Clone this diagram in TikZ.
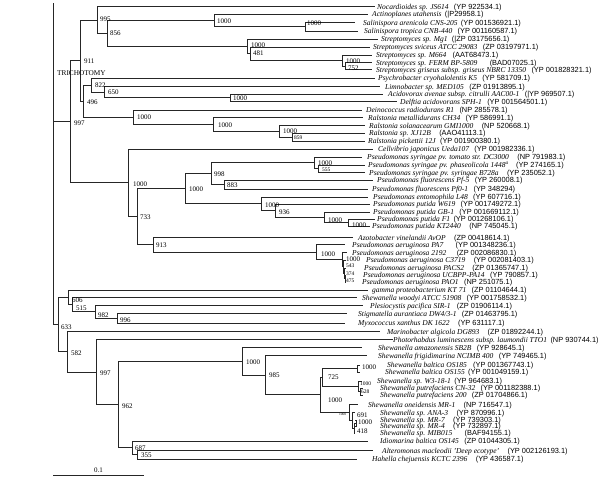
\documentclass[tikz,border=0pt]{standalone}
\usepackage{fontspec}
\setmainfont{Liberation Serif}
\newfontfamily\accfont{Liberation Sans}
\newcommand\tleaf[7]{%
  \coordinate (#1) at (#2,#3);
  \node[sp] (#1s) at (#4,#3+2.5) {#6};
  \node[ac] (#1a) at ([xshift=#5pt]#1s.base east) {#7};
}
\newcommand\bootlab[5][]{\node[bl,#1] (#2) at (#3,#4) {#5};}
\begin{document}
\begin{tikzpicture}[x=1pt,y=-1pt,
  br/.style={line width=0.9pt,black!85},
  sp/.style={anchor=base west,inner sep=0pt,font=\fontsize{7.5}{8}\selectfont\itshape},
  ac/.style={anchor=base west,inner sep=0pt,font=\fontsize{7.4}{8}\selectfont\accfont\upshape},
  bl/.style={anchor=west,inner sep=0pt,font=\fontsize{7}{8}\selectfont},
  tiny/.style={font=\fontsize{5.5}{6}\selectfont}]
\useasboundingbox (0,0) rectangle (600,477);
% ---------- leaves ----------
\tleaf{L1}{375}{6.5}{377}{5}{Nocardioides sp. JS614}{(YP 922534.1)}
\tleaf{L2}{368}{14}{372}{3}{Actinoplanes utahensis}{(|P29958.1)}
\tleaf{L3}{355}{22.5}{363}{3}{Salinispora arenicola CNS-205}{(YP 001536921.1)}
\tleaf{L4}{358}{31}{364}{5}{Salinispora tropica CNB-440}{(YP 001160587.1)}
\tleaf{L5}{378}{39}{381}{4}{Streptomyces sp. Mg1}{(|ZP 03175656.1)}
\tleaf{L6}{370}{47}{373}{5}{Streptomyces sviceus ATCC 29083}{(ZP 03197971.1)}
\tleaf{L7}{372}{55}{376}{6}{Streptomyces sp. M664}{(AAT68473.1)}
\tleaf{L8}{372}{62.5}{376}{12}{Streptomyces sp. FERM BP-5809}{(BAD07025.1)}
\tleaf{L9}{372}{69.5}{376}{5}{Streptomyces griseus subsp. griseus NBRC 13350}{(YP 001828321.1)}
\tleaf{L10}{375}{78}{378}{5}{Psychrobacter cryohalolentis K5}{(YP 581709.1)}
\tleaf{L11}{380}{86.5}{385}{5}{Limnobacter sp. MED105}{(ZP 01913895.1)}
\tleaf{L12}{383}{94}{388}{5}{Acidovorax avenae subsp. citrulli AAC00-1}{(|YP 969507.1)}
\tleaf{L13}{397}{101.5}{400}{5}{Delftia acidovorans SPH-1}{(YP 001564501.1)}
\tleaf{L14}{362}{110}{366}{5}{Deinococcus radiodurans R1}{(NP 285578.1)}
\tleaf{L15}{363}{117.5}{368}{5}{Ralstonia metallidurans CH34}{(YP 586991.1)}
\tleaf{L16}{365}{125.5}{369}{8}{Ralstonia solanacearum GMI1000}{(NP 520668.1)}
\tleaf{L17}{365}{133}{369}{8}{Ralstonia sp. XJ12B}{(AAO41113.1)}
\tleaf{L18}{365}{141}{368}{4}{Ralstonia pickettii 12J}{(YP 001900380.1)}
\tleaf{L19}{373}{149}{378}{5}{Cellvibrio japonicus Ueda107}{(YP 001982336.1)}
\tleaf{L20}{362}{157}{367}{8}{Pseudomonas syringae pv. tomato str. DC3000}{(NP 791983.1)}
\tleaf{L21}{365}{165}{368}{7}{Pseudomonas syringae pv. phaseolicola 1448\textsuperscript{a}}{(YP 274165.1)}
\tleaf{L22}{365}{172.5}{369}{8}{Pseudomonas syringae pv. syringae B728a}{(YP 235052.1)}
\tleaf{L23}{373}{180}{377}{5}{Pseudomonas fluorescens Pf-5}{(YP 260008.1)}
\tleaf{L24}{368}{189}{372}{5}{Pseudomonas fluorescens Pf0-1}{(YP 348294)}
\tleaf{L25}{368}{197}{373}{5}{Pseudomonas entomophila L48}{(YP 607716.1)}
\tleaf{L26}{370}{204}{373}{5}{Pseudomonas putida W619}{(YP 001749272.1)}
\tleaf{L27}{370}{212}{373}{5}{Pseudomonas putida GB-1}{(YP 001669112.1)}
\tleaf{L28}{375}{219}{377}{3}{Pseudomonas putida F1}{(YP 001268106.1)}
\tleaf{L29}{370}{226}{372}{8}{Pseudomonas putida KT2440}{(NP 745045.1)}
\tleaf{L30}{353}{237.5}{358}{8}{Azotobacter vinelandii AvOP}{(ZP 00418614.1)}
\tleaf{L31}{345}{244.5}{352}{12}{Pseudomonas aeruginosa PA7}{(YP 001348236.1)}
\tleaf{L32}{347}{252.5}{352}{10}{Pseudomonas aeruginosa 2192}{(ZP 002086830.1)}
\tleaf{L33}{346}{260}{366}{8}{Pseudomonas aeruginosa C3719}{(YP 002081403.1)}
\tleaf{L34}{346}{268}{364}{8}{Pseudomonas aeruginosa PACS2}{(ZP 01365747.1)}
\tleaf{L35}{346}{275}{363}{5}{Pseudomonas aeruginosa UCBPP-PA14}{(YP 790857.1)}
\tleaf{L36}{346}{282}{362}{5}{Pseudomonas aeruginosa PAO1}{(NP 251075.1)}
\tleaf{L37}{368}{290}{372}{5}{gamma proteobacterium KT 71}{(ZP 01104644.1)}
\tleaf{L38}{357}{297.5}{362}{5}{Shewanella woodyi ATCC 51908}{(YP 001758532.1)}
\tleaf{L39}{363}{305.5}{370}{6}{Plesiocystis pacifica SIR-1}{(ZP 01906114.1)}
\tleaf{L40}{347}{313.5}{358}{5}{Stigmatella aurantiaca DW4/3-1}{(ZP 01463795.1)}
\tleaf{L41}{345}{323}{358}{8}{Myxococcus xanthus DK 1622}{(YP 631117.1)}
\tleaf{L42}{380}{331.5}{387}{8}{Marinobacter algicola DG893}{(ZP 01892244.1)}
\tleaf{L43}{393}{339.5}{393}{3}{Photorhabdus luminescens subsp. laumondii TTO1}{(NP 930744.1)}
\tleaf{L44}{362}{347.5}{378}{5}{Shewanella amazonensis SB2B}{(YP 928645.1)}
\tleaf{L45}{367}{355.5}{378}{5}{Shewanella frigidimarina NCIMB 400}{(YP 749465.1)}
\tleaf{L46}{360}{365}{387}{6}{Shewanella baltica OS185}{(YP 001367743.1)}
\tleaf{L47}{360}{372}{385}{3}{Shewanella baltica OS155}{(YP 001049159.1)}
\tleaf{L48}{362}{381}{377}{3}{Shewanella sp. W3-18-1}{(YP 964683.1)}
\tleaf{L49}{363}{388}{380}{5}{Shewanella putrefaciens CN-32}{(YP 001182388.1)}
\tleaf{L50}{363}{395}{380}{5}{Shewanella putrefaciens 200}{(ZP 01704866.1)}
\tleaf{L51}{358}{404.5}{368}{8}{Shewanella oneidensis MR-1}{(NP 716547.1)}
\tleaf{L52}{355}{412.5}{380}{8}{Shewanella sp. ANA-3}{(YP 870996.1)}
\tleaf{L53}{355}{420}{380}{8}{Shewanella sp. MR-7}{(YP 739303.1)}
\tleaf{L54}{355}{426}{380}{8}{Shewanella sp. MR-4}{(YP 732897.1)}
\tleaf{L55}{355}{433}{380}{12}{Shewanella sp. MIB015}{(BAF94155.1)}
\tleaf{L56}{368}{441}{380}{5}{Idiomarina baltica OS145}{(ZP 01044305.1)}
\tleaf{L57}{373}{450.5}{382}{8}{Alteromonas macleodii 'Deep ecotype'}{(YP 002126193.1)}
\tleaf{L58}{357}{459}{372}{8}{Hahella chejuensis KCTC 2396}{(YP 436587.1)}
% ---------- internal nodes ----------
\coordinate (nSal) at (305,26.75);
\coordinate (nActSal) at (214,20.4);
\coordinate (n752) at (345,66);
\coordinate (nM664) at (342,60.5);
\coordinate (n481) at (250,53.75);
\coordinate (nStrep) at (247,46.4);
\coordinate (n856) at (107,33.4);
\coordinate (n995) at (97,19.95);
\coordinate (nAD) at (230,97.75);
\coordinate (n650) at (104,92.1);
\coordinate (n822) at (91,85.06);
\coordinate (n859) at (292,137);
\coordinate (nRal3) at (279,131.25);
\coordinate (nRal) at (213,124.4);
\coordinate (nDR) at (133,117.2);
\coordinate (n496) at (83,101.1);
\coordinate (n911) at (80,60.5);
\coordinate (n555) at (318,168.75);
\coordinate (nSyr) at (314,162.9);
\coordinate (n883) at (224,184.5);
\coordinate (n998) at (211,173.7);
\coordinate (nPP) at (348,222.5);
\coordinate (nGB) at (324,217.25);
\coordinate (n936) at (275,210.6);
\coordinate (nEnt) at (261,203.8);
\coordinate (nPs1) at (185,188.75);
\coordinate (n475) at (345,278.5);
\coordinate (n374) at (344,273.25);
\coordinate (n543) at (343,266.6);
\coordinate (nAer2) at (342,259.6);
\coordinate (nAer) at (316,252);
\coordinate (n913) at (153,244.75);
\coordinate (n733) at (137,216.75);
\coordinate (nPs0) at (128,182.9);
\coordinate (n997a) at (70,121.7);
\coordinate (n996) at (117,318.25);
\coordinate (n982) at (95,311.9);
\coordinate (n515) at (72,304.7);
\coordinate (n606) at (68,297.3);
\coordinate (nOS) at (357,368.5);
\coordinate (n628) at (360,391.5);
\coordinate (nW3) at (358,386.25);
\coordinate (n725) at (322,377.4);
\coordinate (nMR) at (356,423);
\coordinate (n418) at (354,428);
\coordinate (n691) at (352,420.25);
\coordinate (nOne) at (349,412.4);
\coordinate (n1000b) at (320,394.9);
\coordinate (n985) at (265,375.2);
\coordinate (nShe) at (242,361.35);
\coordinate (n355) at (137,454.75);
\coordinate (n687) at (132,447.9);
\coordinate (n962) at (118,404.6);
\coordinate (n997b) at (96,372.05);
\coordinate (n582) at (67,351.8);
\coordinate (n633) at (58,324.5);
\coordinate (root) at (53,223);
\coordinate (rootTop) at (53,3);
% ---------- branches ----------
\foreach \p/\c in {n995/L1,n995/n856,n856/nActSal,n856/nStrep,nActSal/L2,nActSal/nSal,
  nSal/L3,nSal/L4,nStrep/L5,nStrep/n481,n481/L6,n481/nM664,nM664/L7,nM664/n752,n752/L8,n752/L9,
  n911/n995,n911/n496,n496/n822,n496/nDR,n822/L10,n822/n650,n650/L11,n650/nAD,nAD/L12,nAD/L13,
  nDR/L14,nDR/nRal,nRal/L15,nRal/nRal3,nRal3/L16,nRal3/n859,n859/L17,n859/L18,
  n997a/n911,n997a/nPs0,nPs0/L19,nPs0/n733,n733/nPs1,n733/n913,nPs1/n998,nPs1/nEnt,
  n998/nSyr,n998/n883,nSyr/L20,nSyr/n555,n555/L21,n555/L22,n883/L23,n883/L24,
  nEnt/L25,nEnt/n936,n936/L26,n936/nGB,nGB/L27,nGB/nPP,nPP/L28,nPP/L29,
  n913/L30,n913/nAer,nAer/L31,nAer/nAer2,nAer2/L32,nAer2/n543,n543/L33,n543/n374,
  n374/L34,n374/n475,n475/L35,n475/L36,
  root/n997a,root/n633,n633/n606,n633/n582,n606/L37,n606/n515,n515/L38,n515/n982,
  n982/L39,n982/n996,n996/L40,n996/L41,n582/L42,n582/n997b,n997b/L43,n997b/n962,
  n962/nShe,n962/n687,nShe/L44,nShe/n985,n985/L45,n985/n1000b,n1000b/n725,n1000b/nOne,
  n725/nOS,n725/nW3,nOS/L46,nOS/L47,nW3/L48,nW3/n628,n628/L49,n628/L50,
  nOne/L51,nOne/n691,n691/L52,n691/n418,n418/nMR,n418/L55,nMR/L53,nMR/L54,
  n687/L56,n687/n355,n355/L57,n355/L58}
  {\draw[br] (\p) |- (\c);}
\draw[br] (root) -- (rootTop);
% ---------- bootstrap labels ----------
\bootlab{bSal}{307}{23.5}{1000}
\bootlab{bActSal}{217}{21}{1000}
\bootlab{b752}{348}{68}{752}
\bootlab{bM664}{346}{61.5}{1000}
\bootlab{b481}{253}{53.5}{481}
\bootlab{bStrep}{251}{45.5}{1000}
\bootlab{b856}{110}{33.5}{856}
\bootlab{b995}{100}{19.5}{995}
\bootlab{bAD}{233}{98}{1000}
\bootlab{b650}{108}{92.5}{650}
\bootlab{b822}{95}{85}{822}
\bootlab[tiny]{b859}{294}{138}{859}
\bootlab{bRal3}{283}{131.5}{1000}
\bootlab{bRal}{218}{125}{1000}
\bootlab{bDR}{137}{117.5}{1000}
\bootlab{b496}{87}{102}{496}
\bootlab{b911}{84}{61}{911}
\bootlab[tiny]{b555}{322}{169.5}{555}
\bootlab{bSyr}{318}{163}{1000}
\bootlab{b883}{227}{185}{883}
\bootlab{b998}{214}{174}{998}
\bootlab{bPP}{352}{225}{1000}
\bootlab{bGB}{328}{220}{1000}
\bootlab{b936}{279}{212}{936}
\bootlab{bEnt}{265}{205}{1000}
\bootlab{bPs1}{189}{189}{1000}
\bootlab{bAer}{321}{254.5}{1000}
\bootlab{bAer2}{346}{259}{1000}
\bootlab[tiny]{b543}{346}{266}{543}
\bootlab[tiny]{b374}{346}{274}{374}
\bootlab[tiny]{b475}{346}{281}{475}
\bootlab{b913}{156}{245}{913}
\bootlab{b733}{140}{217}{733}
\bootlab{bPs0}{133}{184}{1000}
\bootlab{b997a}{74}{123}{997}
\bootlab{b996}{120}{320}{996}
\bootlab{b982}{98}{315}{982}
\bootlab{b515}{76}{308}{515}
\bootlab{b606}{72}{300}{606}
\bootlab{b633}{61}{327}{633}
\bootlab{b582}{71}{353}{582}
\bootlab{b997b}{100}{373}{997}
\bootlab{b962}{122}{406}{962}
\bootlab{bShe}{246}{362.5}{1000}
\bootlab{b985}{269}{375}{985}
\bootlab{b725}{328}{377}{725}
\bootlab{b1000b}{328}{400}{1000}
\bootlab{bOS}{362}{367}{1000}
\bootlab[tiny]{bW3}{360}{384}{1000}
\bootlab[tiny]{b628}{361}{392}{628}
\bootlab[font=\fontsize{3.5}{4}\selectfont]{bOne}{339}{414}{1000}
\bootlab{b691}{357}{415}{691}
\bootlab{bMR}{358}{422.5}{1000}
\bootlab{b418}{357}{431}{418}
\bootlab{b687}{135}{448}{687}
\bootlab{b355}{141}{455}{355}
% ---------- other text ----------
\node[anchor=west,inner sep=0pt,font=\fontsize{7.3}{8}\selectfont] (tri) at (57,73) {TRICHOTOMY};
\coordinate (sbA) at (53,475);
\coordinate (sbB) at (144,475);
\draw[br] (sbA) -- (sbB);
\node[inner sep=0pt,font=\fontsize{7}{8}\selectfont] (sbl) at (98.5,470) {0.1};
\end{tikzpicture}
\end{document}
